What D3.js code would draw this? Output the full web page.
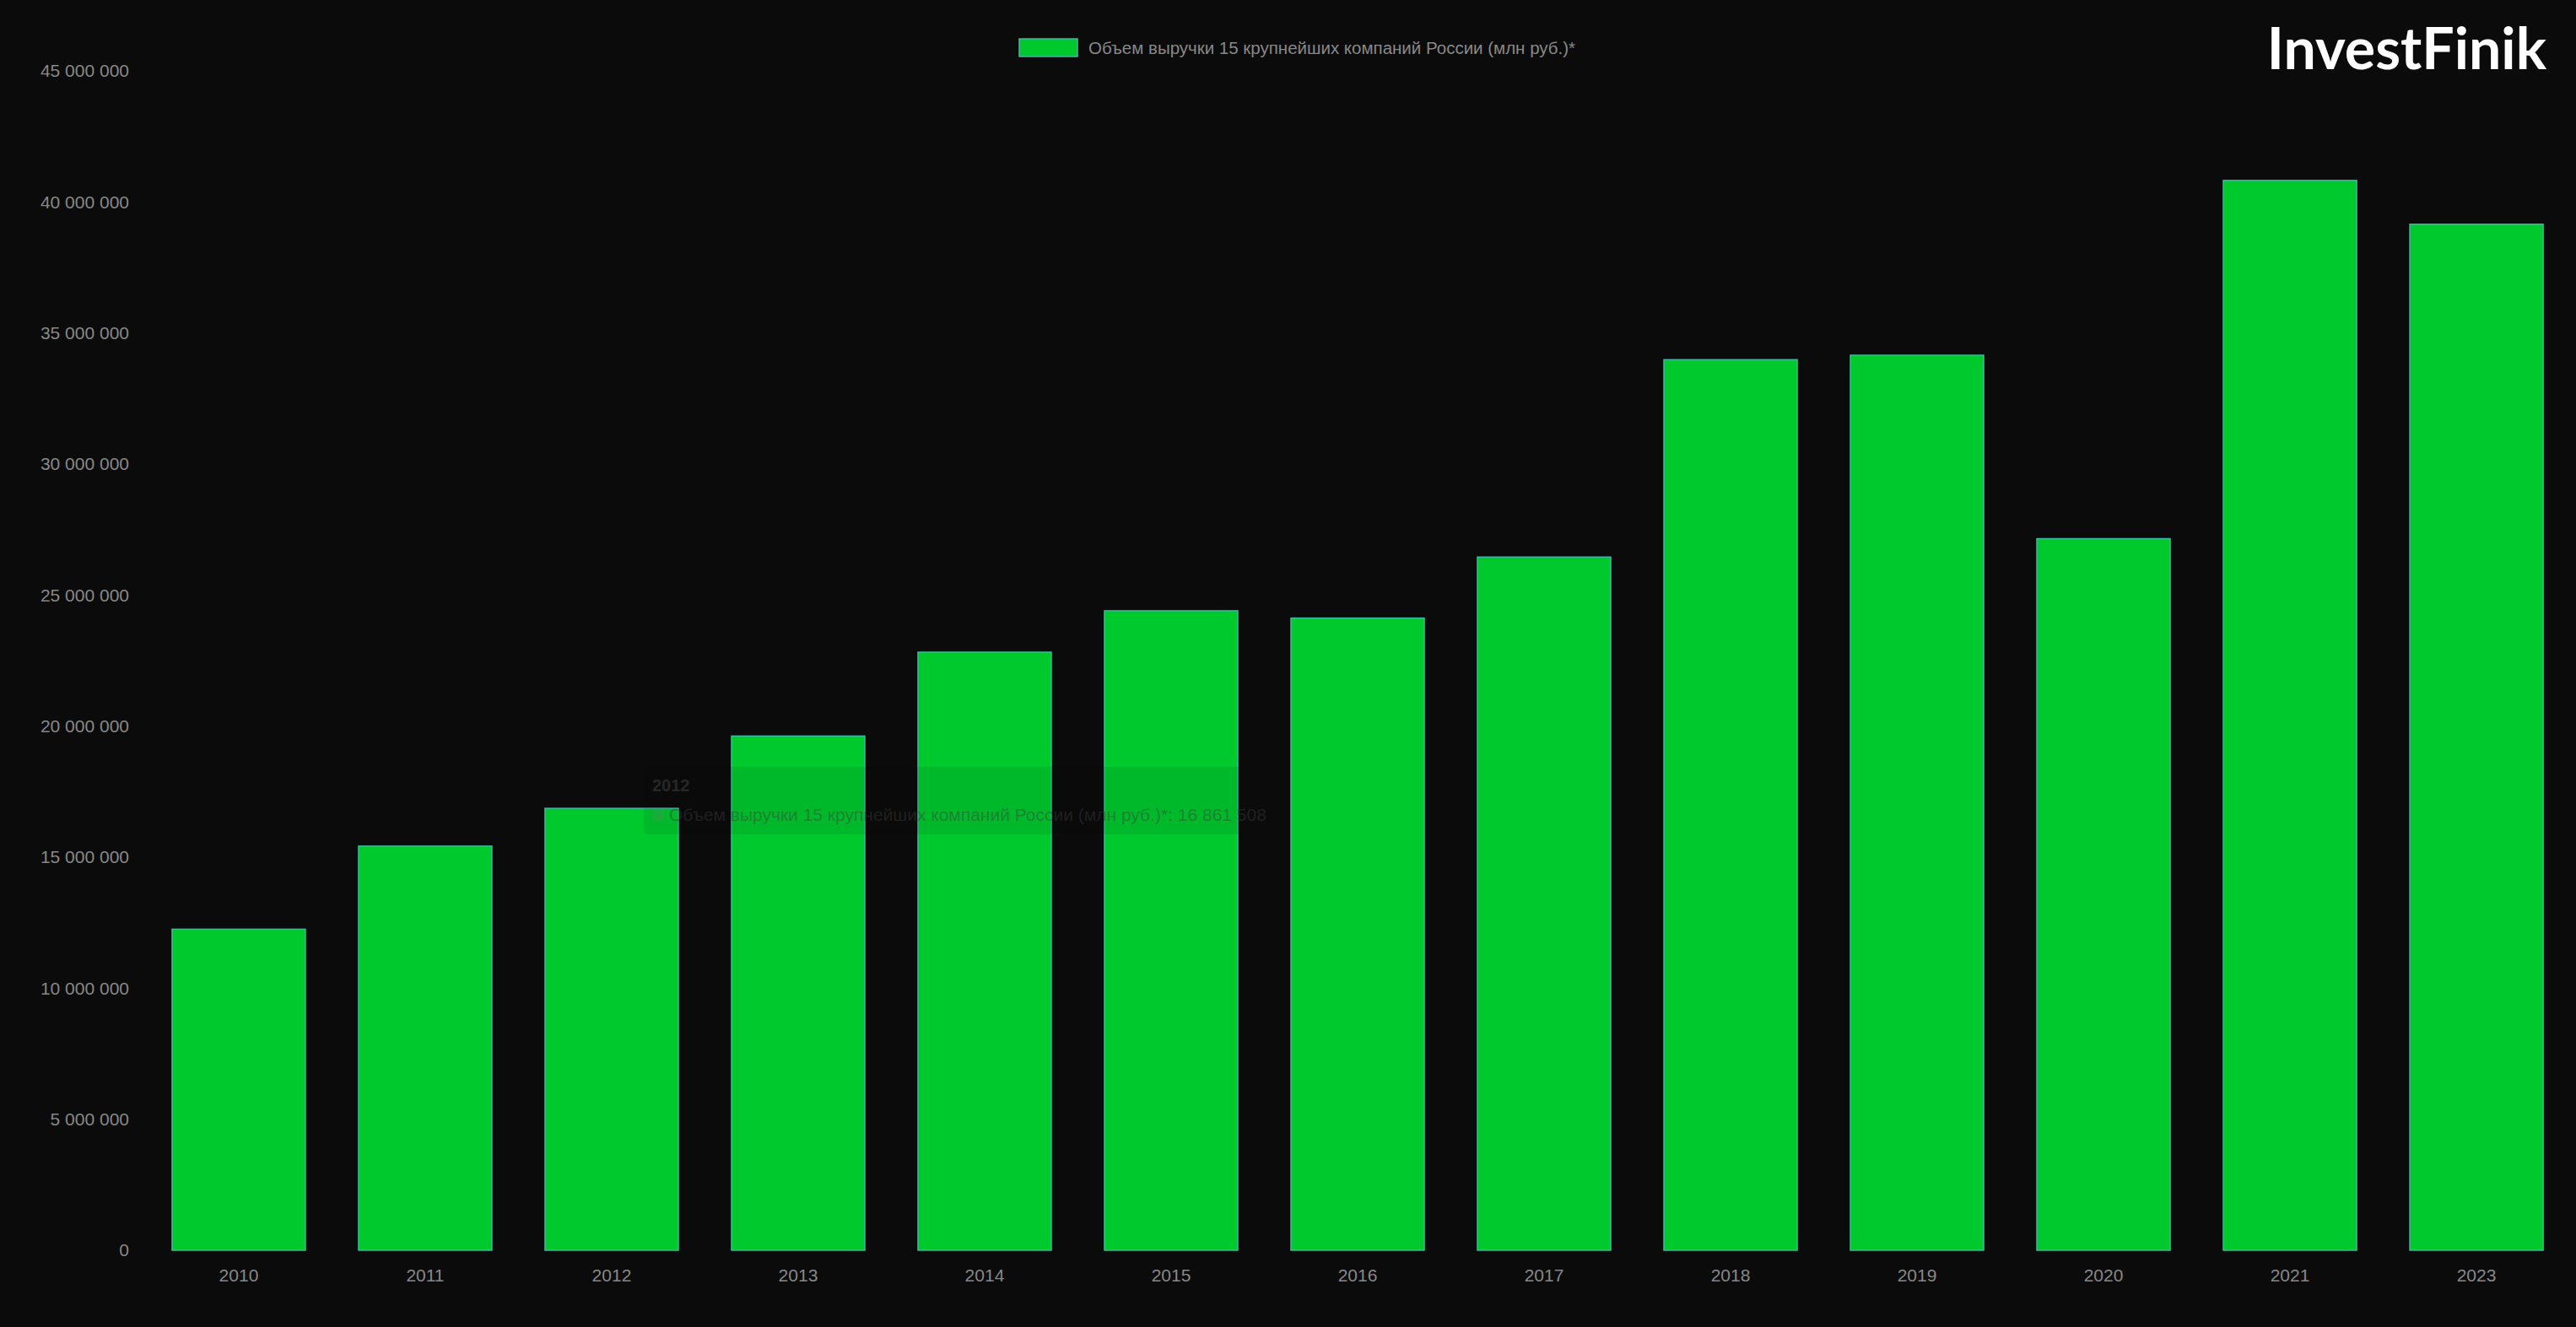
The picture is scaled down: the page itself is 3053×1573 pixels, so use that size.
<!DOCTYPE html>
<html>
<head>
<meta charset="utf-8" />
<script src="https://cdnjs.cloudflare.com/ajax/libs/d3/7.8.5/d3.min.js"></script>
<style>
  html, body { margin: 0; background: #0b0b0b; }
</style>
</head>
<body>
<script>
const years = ["2010", "2011", "2012", "2013", "2014", "2015", "2016", "2017", "2018", "2019", "2020", "2021", "2023"];
const revenue = [12250000, 15420000, 16861508, 19620000, 22820000, 24400000, 24120000, 26450000, 33980000, 34150000, 27150000, 40820000, 39150000];
const yTicks = [0, 5e6, 10e6, 15e6, 20e6, 25e6, 30e6, 35e6, 40e6, 45e6];
const seriesName = "Объем выручки 15 крупнейших компаний России (млн руб.)*";

const width = 3053, height = 1573;
const margin = { top: 84, right: 8, bottom: 91, left: 173 };

const svg = d3.select("body").append("svg")
    .attr("width", width)
    .attr("height", height)
    .style("font-family", "Arial, 'Liberation Sans', sans-serif");

svg.append("rect").attr("width", width).attr("height", height).attr("fill", "#0b0b0b");

const x = d3.scaleBand()
    .domain(years)
    .range([margin.left, width - margin.right])
    .paddingInner(0.285)
    .paddingOuter(0.14);

const y = d3.scaleLinear()
    .domain([0, 45e6])
    .range([height - margin.bottom, margin.top]);

const fmt = v => d3.format(",")(v).replace(/,/g, " ");

const yAxis = svg.append("g")
    .attr("transform", `translate(${margin.left},0)`)
    .call(d3.axisLeft(y).tickValues(yTicks).tickFormat(fmt).tickSize(0).tickPadding(20));
yAxis.select(".domain").remove();
yAxis.selectAll("text").attr("fill", "#888").attr("font-size", 21);

const xAxis = svg.append("g")
    .attr("transform", `translate(0,${height - margin.bottom})`)
    .call(d3.axisBottom(x).tickSize(0).tickPadding(22));
xAxis.select(".domain").remove();
xAxis.selectAll("text").attr("fill", "#888").attr("font-size", 21);

svg.append("g").selectAll("rect")
    .data(revenue)
    .join("rect")
    .attr("x", (d, i) => x(years[i]))
    .attr("width", x.bandwidth())
    .attr("y", d => y(d))
    .attr("height", d => y(0) - y(d))
    .attr("fill", "#00c92e")
    .attr("stroke", "#3fb8a0")
    .attr("stroke-width", 1.5);

// legend
const lg = svg.append("g").attr("transform", "translate(1208,46)");
lg.append("rect").attr("width", 69).attr("height", 21)
    .attr("fill", "#00c92e").attr("stroke", "#3fb8a0").attr("stroke-width", 1.5);
lg.append("text").attr("x", 82).attr("y", 18).attr("fill", "#888")
    .attr("font-size", 20.5).text(seriesName);

// logo
svg.append("text").attr("x", 3018).attr("y", 82).attr("text-anchor", "end")
    .attr("fill", "#fff").attr("font-family", "Lato, sans-serif").attr("font-weight", "bold")
    .attr("font-size", 68).text("InvestFinik");

// faint tooltip for 2012
const idx = 2;
const tt = svg.append("g").attr("transform", "translate(763,909)");
tt.append("rect").attr("width", 707).attr("height", 80).attr("rx", 5)
    .attr("fill", "rgba(0,0,0,0.08)");
tt.append("text").attr("x", 10).attr("y", 29).attr("fill", "rgba(60,60,60,0.6)")
    .attr("font-size", 20).attr("font-weight", "bold").text(years[idx]);
tt.append("rect").attr("x", 10).attr("y", 50).attr("width", 15).attr("height", 15)
    .attr("fill", "rgba(120,120,120,0.2)");
tt.append("text").attr("x", 30).attr("y", 64).attr("fill", "rgba(60,60,60,0.45)")
    .attr("font-size", 21).text(`${seriesName}: ${fmt(revenue[idx])}`);
</script>
</body>
</html>
